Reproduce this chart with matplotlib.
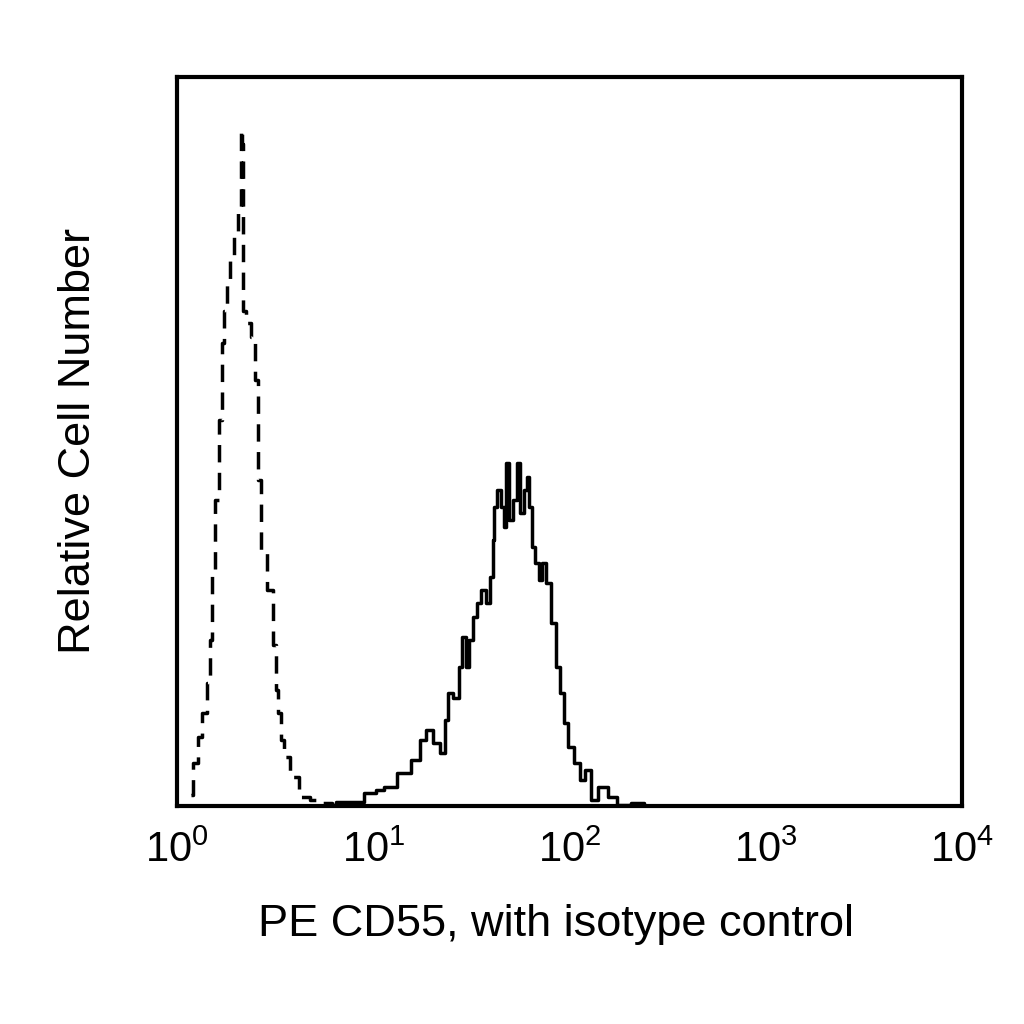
import numpy as np
import matplotlib
matplotlib.use("Agg")
import matplotlib.pyplot as plt
from matplotlib.ticker import FixedLocator, FixedFormatter, NullLocator

plt.rcParams['font.family'] = ['Liberation Sans', 'DejaVu Sans']
plt.rcParams['mathtext.fontset'] = 'custom'
plt.rcParams['mathtext.rm'] = 'Liberation Sans'
plt.rcParams['mathtext.it'] = 'Liberation Sans'

# isotype control (dashed) - fluorescence intensity and relative counts
iso_x = [1.17, 1.25, 1.29, 1.39, 1.44, 1.49, 1.53, 1.60, 1.66, 1.72, 1.76, 1.82,
         1.91, 1.98, 2.10, 2.12, 2.17, 2.17, 2.30, 2.44, 2.53, 2.62, 2.71, 3.05,
         3.13, 3.24, 3.31, 3.43, 3.56, 3.95, 4.39, 5.18, 5.56, 6.79, 8.6, 9.5]
iso_y = [11, 43, 69, 93, 123, 166, 236, 306, 386, 463, 496, 523,
         549, 576, 599, 678, 663, 496, 483, 469, 426, 326, 256, 216,
         161, 116, 93, 66, 49, 29, 9, 6, 3, 1, 0, 0]

# PE CD55 stained (solid)
pe_x = [5.0, 7.9, 10.0, 10.6, 12.2, 14.2, 16.8, 18.0, 19.1, 21.2, 22.8, 23.9,
        24.1, 26.8, 27.8, 28.8, 30.5, 31.3, 33.1, 34.3, 36.4, 38.6, 40.5, 41.0,
        41.9, 43.4, 46.0, 47.1, 48.3, 50.0, 53.0, 54.9, 57.5, 59.7, 61.8, 63.3,
        65.5, 68.7, 71.1, 73.6, 78.2, 82.8, 87.9, 92.1, 95.4, 101.2, 109.9, 116.5,
        125.0, 132.5, 149.0, 167.6, 182.0, 230.0, 250.0, 270.0]
pe_y = [0, 4, 13, 16, 19, 33, 46, 66, 76, 63, 53, 86,
        113, 108, 139, 169, 139, 166, 189, 203, 216, 203, 229, 266,
        299, 316, 299, 279, 343, 286, 306, 343, 293, 316, 329, 299,
        259, 243, 226, 243, 223, 183, 139, 113, 83, 59, 43, 26,
        36, 6, 19, 9, 1, 3, 0, 0]

tick_pos = [1, 10, 100, 1000, 10000]
tick_lab = ['$10^{0}$', '$10^{1}$', '$10^{2}$', '$10^{3}$', '$10^{4}$']

fig = plt.figure(figsize=(10.24, 10.24), dpi=100)
ax = fig.add_axes([0.173, 0.213, 0.766, 0.712])

ax.plot(iso_x, iso_y, color='black', lw=2.5, ls=(0, (5, 3)), drawstyle='steps-mid')
ax.plot(pe_x, pe_y, color='black', lw=2.5, drawstyle='steps-mid')

ax.set_xscale('log')
ax.set_xlim(1, 10000)
ax.set_ylim(0, 730)
ax.xaxis.set_major_locator(FixedLocator(tick_pos))
ax.xaxis.set_major_formatter(FixedFormatter(tick_lab))
ax.xaxis.set_minor_locator(NullLocator())
ax.set_yticks([])
ax.tick_params(axis='x', length=0, pad=18, labelsize=30)

for s in ax.spines.values():
    s.set_linewidth(3)

ax.set_xlabel('PE CD55, with isotype control', fontsize=32.5, labelpad=26)
ax.xaxis.set_label_coords(0.483, -0.135)
ax.set_ylabel('Relative Cell Number', fontsize=32.5, labelpad=56)

fig.savefig('out.png', dpi=100)
